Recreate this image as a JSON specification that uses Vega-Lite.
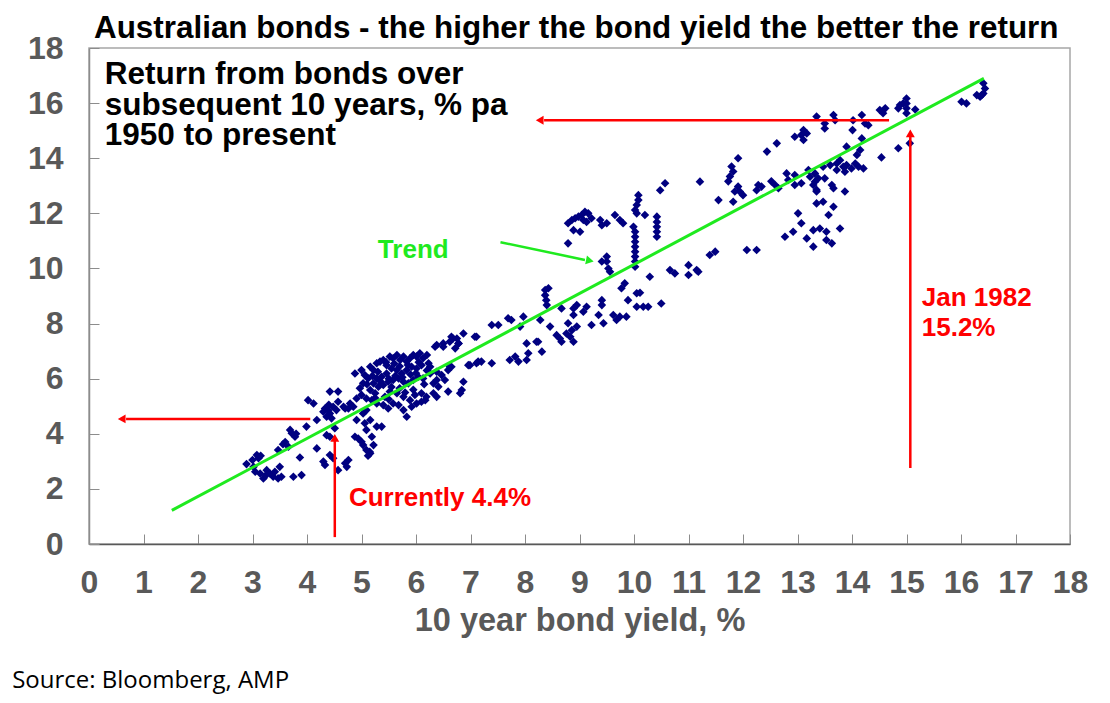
{
  "$schema": "https://vega.github.io/schema/vega-lite/v6.json",
  "autosize": {"type": "none"},
  "padding": {"left": 89, "top": 48, "right": 40, "bottom": 159},
  "width": 981,
  "height": 496,
  "background": "white",
  "datasets": {
    "bonds": [
      {"yield": 2.89, "ret": 2.90}, {"yield": 3.08, "ret": 3.23}, {"yield": 3.11, "ret": 3.11}, {"yield": 3.02, "ret": 2.80},
      {"yield": 3.05, "ret": 2.62}, {"yield": 3.14, "ret": 2.56}, {"yield": 3.20, "ret": 2.38}, {"yield": 3.26, "ret": 2.68},
      {"yield": 3.32, "ret": 2.56}, {"yield": 3.38, "ret": 2.44}, {"yield": 3.41, "ret": 2.62}, {"yield": 3.50, "ret": 2.80},
      {"yield": 3.47, "ret": 2.38}, {"yield": 3.53, "ret": 2.44}, {"yield": 3.75, "ret": 2.44}, {"yield": 3.90, "ret": 2.50},
      {"yield": 3.87, "ret": 3.14}, {"yield": 3.69, "ret": 4.14}, {"yield": 3.72, "ret": 4.02}, {"yield": 3.78, "ret": 3.89},
      {"yield": 3.66, "ret": 3.53}, {"yield": 3.47, "ret": 3.41}, {"yield": 3.99, "ret": 4.26}, {"yield": 4.18, "ret": 4.50},
      {"yield": 4.18, "ret": 3.47}, {"yield": 4.02, "ret": 5.22}, {"yield": 4.12, "ret": 5.10}, {"yield": 4.30, "ret": 2.99},
      {"yield": 4.33, "ret": 2.87}, {"yield": 4.42, "ret": 3.23}, {"yield": 4.48, "ret": 3.11}, {"yield": 4.57, "ret": 2.68},
      {"yield": 4.70, "ret": 2.93}, {"yield": 4.76, "ret": 3.05}, {"yield": 4.73, "ret": 2.80}, {"yield": 4.36, "ret": 3.95},
      {"yield": 4.42, "ret": 3.89}, {"yield": 4.51, "ret": 4.20}, {"yield": 3.15, "ret": 3.20}, {"yield": 3.00, "ret": 3.05},
      {"yield": 3.25, "ret": 2.50}, {"yield": 3.60, "ret": 3.70}, {"yield": 3.56, "ret": 3.62}, {"yield": 3.80, "ret": 4.00},
      {"yield": 4.33, "ret": 4.92}, {"yield": 4.39, "ret": 4.86}, {"yield": 4.42, "ret": 4.74}, {"yield": 4.48, "ret": 4.98},
      {"yield": 4.54, "ret": 4.86}, {"yield": 4.45, "ret": 4.56}, {"yield": 4.36, "ret": 4.62}, {"yield": 4.57, "ret": 5.16},
      {"yield": 4.42, "ret": 5.53}, {"yield": 4.57, "ret": 5.53}, {"yield": 4.67, "ret": 4.98}, {"yield": 4.76, "ret": 4.92},
      {"yield": 4.85, "ret": 4.98}, {"yield": 4.30, "ret": 4.80}, {"yield": 4.40, "ret": 5.05},
      {"yield": 4.91, "ret": 4.50}, {"yield": 4.88, "ret": 3.89}, {"yield": 4.94, "ret": 3.83}, {"yield": 5.00, "ret": 3.71},
      {"yield": 5.03, "ret": 3.59}, {"yield": 5.09, "ret": 3.41}, {"yield": 5.16, "ret": 3.29}, {"yield": 5.22, "ret": 3.59},
      {"yield": 5.28, "ret": 4.26}, {"yield": 5.37, "ret": 4.26}, {"yield": 5.09, "ret": 4.14}, {"yield": 5.06, "ret": 4.38},
      {"yield": 5.03, "ret": 4.74}, {"yield": 5.09, "ret": 4.86}, {"yield": 5.16, "ret": 4.50}, {"yield": 5.19, "ret": 3.89},
      {"yield": 5.12, "ret": 3.20}, {"yield": 5.15, "ret": 3.35},
      {"yield": 4.88, "ret": 6.19}, {"yield": 5.00, "ret": 6.31}, {"yield": 5.06, "ret": 6.13}, {"yield": 5.12, "ret": 6.01},
      {"yield": 5.03, "ret": 5.83}, {"yield": 4.97, "ret": 5.65}, {"yield": 5.16, "ret": 6.43}, {"yield": 5.22, "ret": 6.31},
      {"yield": 5.28, "ret": 6.56}, {"yield": 5.34, "ret": 6.62}, {"yield": 5.40, "ret": 6.68}, {"yield": 5.46, "ret": 6.49},
      {"yield": 5.52, "ret": 6.80}, {"yield": 5.58, "ret": 6.74}, {"yield": 5.65, "ret": 6.86}, {"yield": 5.71, "ret": 6.68},
      {"yield": 5.77, "ret": 6.80}, {"yield": 5.83, "ret": 6.62}, {"yield": 5.89, "ret": 6.74}, {"yield": 5.95, "ret": 6.86},
      {"yield": 6.01, "ret": 6.80}, {"yield": 6.07, "ret": 6.92}, {"yield": 6.13, "ret": 6.74}, {"yield": 6.20, "ret": 6.86},
      {"yield": 6.23, "ret": 6.56}, {"yield": 6.26, "ret": 6.43}, {"yield": 6.10, "ret": 6.49}, {"yield": 6.01, "ret": 6.37},
      {"yield": 5.92, "ret": 6.43}, {"yield": 5.83, "ret": 6.31}, {"yield": 5.74, "ret": 6.19}, {"yield": 5.65, "ret": 6.31},
      {"yield": 5.55, "ret": 6.37}, {"yield": 5.46, "ret": 6.19}, {"yield": 5.37, "ret": 6.07}, {"yield": 5.28, "ret": 6.01},
      {"yield": 5.22, "ret": 5.83}, {"yield": 5.31, "ret": 5.71}, {"yield": 5.40, "ret": 5.77}, {"yield": 5.49, "ret": 5.89},
      {"yield": 5.58, "ret": 5.95}, {"yield": 5.68, "ret": 6.01}, {"yield": 5.77, "ret": 5.89}, {"yield": 5.86, "ret": 5.83},
      {"yield": 5.95, "ret": 5.95}, {"yield": 6.04, "ret": 6.07}, {"yield": 6.13, "ret": 6.01}, {"yield": 6.26, "ret": 6.19},
      {"yield": 6.38, "ret": 6.25}, {"yield": 6.47, "ret": 6.13}, {"yield": 6.53, "ret": 5.95}, {"yield": 6.59, "ret": 6.31},
      {"yield": 6.65, "ret": 6.43}, {"yield": 6.38, "ret": 5.95}, {"yield": 6.32, "ret": 5.83}, {"yield": 6.41, "ret": 5.71},
      {"yield": 6.32, "ret": 5.47}, {"yield": 6.19, "ret": 5.34}, {"yield": 6.10, "ret": 5.16}, {"yield": 6.01, "ret": 5.10},
      {"yield": 5.92, "ret": 4.98}, {"yield": 5.83, "ret": 4.62}, {"yield": 5.77, "ret": 4.86}, {"yield": 5.68, "ret": 5.04},
      {"yield": 5.58, "ret": 5.10}, {"yield": 5.49, "ret": 4.92}, {"yield": 5.40, "ret": 5.04}, {"yield": 5.28, "ret": 5.10},
      {"yield": 5.19, "ret": 5.22}, {"yield": 5.09, "ret": 5.28}, {"yield": 5.00, "ret": 5.41}, {"yield": 4.91, "ret": 5.28},
      {"yield": 4.79, "ret": 5.10}, {"yield": 4.70, "ret": 4.92}, {"yield": 5.16, "ret": 5.59}, {"yield": 5.25, "ret": 5.47},
      {"yield": 5.43, "ret": 5.34}, {"yield": 5.52, "ret": 5.53}, {"yield": 5.65, "ret": 5.47}, {"yield": 5.77, "ret": 5.34},
      {"yield": 5.89, "ret": 5.22}, {"yield": 5.98, "ret": 5.41}, {"yield": 6.17, "ret": 5.22}, {"yield": 6.10, "ret": 5.47},
      {"yield": 6.38, "ret": 5.34}, {"yield": 6.59, "ret": 5.53}, {"yield": 6.81, "ret": 5.47}, {"yield": 6.87, "ret": 5.89},
      {"yield": 6.96, "ret": 6.49}, {"yield": 7.11, "ret": 6.56}, {"yield": 6.62, "ret": 7.34}, {"yield": 6.78, "ret": 7.28},
      {"yield": 6.87, "ret": 7.64}, {"yield": 6.68, "ret": 7.46}, {"yield": 6.38, "ret": 7.22}, {"yield": 6.50, "ret": 7.16},
      {"yield": 7.08, "ret": 7.52}, {"yield": 7.14, "ret": 6.62}, {"yield": 6.84, "ret": 5.59},
      {"yield": 5.30, "ret": 6.25}, {"yield": 5.45, "ret": 6.60}, {"yield": 5.60, "ret": 6.55}, {"yield": 5.70, "ret": 6.45},
      {"yield": 5.85, "ret": 6.50}, {"yield": 5.50, "ret": 6.00}, {"yield": 5.62, "ret": 6.10}, {"yield": 5.75, "ret": 6.05},
      {"yield": 5.90, "ret": 6.15}, {"yield": 6.00, "ret": 6.20}, {"yield": 6.05, "ret": 6.60}, {"yield": 5.20, "ret": 6.10},
      {"yield": 5.35, "ret": 5.90}, {"yield": 5.55, "ret": 5.70}, {"yield": 5.70, "ret": 5.65}, {"yield": 5.80, "ret": 5.50},
      {"yield": 6.20, "ret": 6.30}, {"yield": 6.15, "ret": 5.80}, {"yield": 5.95, "ret": 5.60}, {"yield": 5.25, "ret": 5.30},
      {"yield": 5.50, "ret": 5.25}, {"yield": 5.10, "ret": 5.80},
      {"yield": 8.79, "ret": 11.64}, {"yield": 8.86, "ret": 11.76}, {"yield": 8.92, "ret": 11.82}, {"yield": 8.98, "ret": 11.88},
      {"yield": 9.04, "ret": 11.94}, {"yield": 9.10, "ret": 12.06}, {"yield": 9.16, "ret": 12.00}, {"yield": 9.22, "ret": 11.82},
      {"yield": 9.13, "ret": 11.69}, {"yield": 9.07, "ret": 11.76}, {"yield": 9.01, "ret": 11.33}, {"yield": 8.89, "ret": 11.39},
      {"yield": 8.79, "ret": 10.91}, {"yield": 9.38, "ret": 11.76}, {"yield": 9.41, "ret": 11.57}, {"yield": 9.50, "ret": 11.64},
      {"yield": 9.65, "ret": 11.94}, {"yield": 9.74, "ret": 11.76}, {"yield": 9.80, "ret": 11.64},
      {"yield": 10.08, "ret": 12.66}, {"yield": 10.08, "ret": 12.48}, {"yield": 10.05, "ret": 12.30}, {"yield": 10.02, "ret": 12.12},
      {"yield": 10.05, "ret": 12.00}, {"yield": 9.99, "ret": 11.51}, {"yield": 10.02, "ret": 11.33}, {"yield": 10.02, "ret": 11.15},
      {"yield": 10.02, "ret": 10.97}, {"yield": 10.02, "ret": 10.79}, {"yield": 10.02, "ret": 10.61}, {"yield": 10.02, "ret": 10.43},
      {"yield": 10.02, "ret": 10.25}, {"yield": 10.02, "ret": 10.06}, {"yield": 10.20, "ret": 11.94}, {"yield": 10.48, "ret": 12.84},
      {"yield": 10.57, "ret": 13.09}, {"yield": 11.21, "ret": 13.15},
      {"yield": 10.42, "ret": 11.88}, {"yield": 10.42, "ret": 11.69}, {"yield": 10.42, "ret": 11.51}, {"yield": 10.42, "ret": 11.33},
      {"yield": 10.42, "ret": 11.15},
      {"yield": 9.41, "ret": 10.25}, {"yield": 9.50, "ret": 10.43}, {"yield": 9.50, "ret": 10.25}, {"yield": 9.53, "ret": 10.00},
      {"yield": 9.56, "ret": 9.88},
      {"yield": 11.39, "ret": 10.49}, {"yield": 11.49, "ret": 10.61}, {"yield": 11.55, "ret": 12.48},
      {"yield": 11.00, "ret": 10.12}, {"yield": 11.15, "ret": 9.94}, {"yield": 11.00, "ret": 9.76}, {"yield": 10.66, "ret": 9.94},
      {"yield": 10.75, "ret": 9.82}, {"yield": 10.29, "ret": 9.70}, {"yield": 9.83, "ret": 9.46}, {"yield": 9.77, "ret": 9.28},
      {"yield": 10.05, "ret": 9.10}, {"yield": 10.11, "ret": 9.12}, {"yield": 9.89, "ret": 8.85}, {"yield": 10.05, "ret": 8.61},
      {"yield": 10.17, "ret": 8.61}, {"yield": 10.26, "ret": 8.61}, {"yield": 10.50, "ret": 8.73}, {"yield": 9.86, "ret": 8.25},
      {"yield": 9.74, "ret": 8.25}, {"yield": 9.62, "ret": 8.31}, {"yield": 9.68, "ret": 8.13}, {"yield": 9.41, "ret": 8.85},
      {"yield": 9.41, "ret": 8.67}, {"yield": 9.35, "ret": 8.31}, {"yield": 9.44, "ret": 8.01}, {"yield": 9.22, "ret": 7.95},
      {"yield": 9.13, "ret": 8.61}, {"yield": 9.07, "ret": 8.43}, {"yield": 8.95, "ret": 8.67}, {"yield": 8.89, "ret": 8.55},
      {"yield": 8.89, "ret": 8.31}, {"yield": 8.79, "ret": 8.01}, {"yield": 8.95, "ret": 7.89}, {"yield": 8.86, "ret": 7.76},
      {"yield": 8.67, "ret": 8.55}, {"yield": 8.46, "ret": 7.89}, {"yield": 8.58, "ret": 7.58}, {"yield": 8.64, "ret": 7.46},
      {"yield": 8.67, "ret": 7.34}, {"yield": 8.76, "ret": 7.64}, {"yield": 8.83, "ret": 7.52}, {"yield": 8.89, "ret": 7.34},
      {"yield": 8.31, "ret": 6.98}, {"yield": 8.24, "ret": 7.34}, {"yield": 8.37, "ret": 9.22}, {"yield": 8.43, "ret": 9.28},
      {"yield": 8.37, "ret": 9.03}, {"yield": 8.39, "ret": 8.85}, {"yield": 8.40, "ret": 8.67}, {"yield": 8.28, "ret": 8.13},
      {"yield": 8.03, "ret": 7.28}, {"yield": 8.06, "ret": 6.92}, {"yield": 8.21, "ret": 7.34}, {"yield": 7.97, "ret": 8.25},
      {"yield": 7.75, "ret": 8.13}, {"yield": 7.69, "ret": 8.19}, {"yield": 7.51, "ret": 7.95}, {"yield": 7.39, "ret": 7.95},
      {"yield": 7.91, "ret": 7.89}, {"yield": 7.11, "ret": 7.52}, {"yield": 6.75, "ret": 7.46}, {"yield": 6.78, "ret": 7.28},
      {"yield": 6.65, "ret": 7.52}, {"yield": 6.50, "ret": 7.28}, {"yield": 6.35, "ret": 7.16}, {"yield": 6.72, "ret": 7.10},
      {"yield": 7.72, "ret": 6.68}, {"yield": 7.82, "ret": 6.80}, {"yield": 7.88, "ret": 6.62}, {"yield": 8.03, "ret": 6.68},
      {"yield": 7.20, "ret": 6.62}, {"yield": 7.39, "ret": 6.56}, {"yield": 6.99, "ret": 6.49}, {"yield": 6.62, "ret": 6.43},
      {"yield": 16.41, "ret": 16.72}, {"yield": 16.44, "ret": 16.53}, {"yield": 16.41, "ret": 16.35}, {"yield": 16.38, "ret": 16.29},
      {"yield": 16.35, "ret": 16.23}, {"yield": 16.29, "ret": 16.29}, {"yield": 16.01, "ret": 16.05}, {"yield": 16.10, "ret": 15.99},
      {"yield": 15.00, "ret": 16.17}, {"yield": 15.00, "ret": 15.99}, {"yield": 15.00, "ret": 15.81}, {"yield": 15.00, "ret": 15.63},
      {"yield": 14.88, "ret": 15.93}, {"yield": 14.85, "ret": 15.81}, {"yield": 15.16, "ret": 15.77}, {"yield": 14.94, "ret": 15.99},
      {"yield": 14.51, "ret": 15.75}, {"yield": 14.61, "ret": 15.81}, {"yield": 14.57, "ret": 15.63},
      {"yield": 15.06, "ret": 14.54}, {"yield": 14.85, "ret": 14.36}, {"yield": 14.54, "ret": 14.03},
      {"yield": 14.18, "ret": 15.57}, {"yield": 14.02, "ret": 15.38}, {"yield": 14.30, "ret": 15.20}, {"yield": 14.24, "ret": 15.26},
      {"yield": 14.01, "ret": 15.02}, {"yield": 14.18, "ret": 14.72}, {"yield": 13.66, "ret": 15.57}, {"yield": 13.69, "ret": 15.38},
      {"yield": 13.50, "ret": 15.26}, {"yield": 13.50, "ret": 15.08}, {"yield": 13.35, "ret": 15.51},
      {"yield": 13.11, "ret": 15.02}, {"yield": 13.17, "ret": 14.90}, {"yield": 13.11, "ret": 14.66}, {"yield": 12.95, "ret": 14.78},
      {"yield": 13.07, "ret": 14.84}, {"yield": 12.62, "ret": 14.54}, {"yield": 12.44, "ret": 14.24},
      {"yield": 11.91, "ret": 14.00}, {"yield": 11.79, "ret": 13.70}, {"yield": 11.82, "ret": 13.52}, {"yield": 11.76, "ret": 13.34},
      {"yield": 11.73, "ret": 13.16}, {"yield": 11.91, "ret": 12.97}, {"yield": 11.94, "ret": 12.79}, {"yield": 11.85, "ret": 12.79},
      {"yield": 12.00, "ret": 12.66}, {"yield": 11.82, "ret": 12.42}, {"yield": 12.28, "ret": 13.03}, {"yield": 12.34, "ret": 12.97},
      {"yield": 12.25, "ret": 12.84}, {"yield": 12.52, "ret": 13.16}, {"yield": 12.59, "ret": 13.03}, {"yield": 12.65, "ret": 12.91},
      {"yield": 12.80, "ret": 13.45}, {"yield": 12.83, "ret": 13.21}, {"yield": 12.95, "ret": 13.39}, {"yield": 12.95, "ret": 13.03},
      {"yield": 13.07, "ret": 13.09}, {"yield": 13.20, "ret": 13.57}, {"yield": 13.23, "ret": 13.33}, {"yield": 13.32, "ret": 13.45},
      {"yield": 13.32, "ret": 13.15}, {"yield": 13.29, "ret": 13.03}, {"yield": 13.38, "ret": 13.27}, {"yield": 13.50, "ret": 13.27},
      {"yield": 13.35, "ret": 12.85}, {"yield": 13.47, "ret": 13.69}, {"yield": 13.60, "ret": 13.75}, {"yield": 13.72, "ret": 13.81},
      {"yield": 13.78, "ret": 13.93}, {"yield": 13.84, "ret": 13.69}, {"yield": 13.90, "ret": 13.75}, {"yield": 13.99, "ret": 13.63},
      {"yield": 14.06, "ret": 13.81}, {"yield": 13.72, "ret": 13.57}, {"yield": 13.87, "ret": 13.51}, {"yield": 14.12, "ret": 13.69},
      {"yield": 14.21, "ret": 13.63}, {"yield": 13.90, "ret": 14.42}, {"yield": 14.15, "ret": 14.30}, {"yield": 14.09, "ret": 14.12},
      {"yield": 13.63, "ret": 13.03}, {"yield": 13.66, "ret": 12.91}, {"yield": 13.87, "ret": 12.79},
      {"yield": 13.35, "ret": 12.79}, {"yield": 13.35, "ret": 12.36}, {"yield": 13.47, "ret": 12.42}, {"yield": 13.66, "ret": 12.24},
      {"yield": 13.57, "ret": 11.94}, {"yield": 13.01, "ret": 12.00}, {"yield": 13.07, "ret": 11.64}, {"yield": 12.92, "ret": 11.33},
      {"yield": 12.77, "ret": 11.15}, {"yield": 13.17, "ret": 11.09}, {"yield": 13.29, "ret": 10.79}, {"yield": 13.29, "ret": 11.39},
      {"yield": 13.41, "ret": 11.45}, {"yield": 13.53, "ret": 11.33}, {"yield": 13.53, "ret": 11.03}, {"yield": 13.63, "ret": 10.91},
      {"yield": 13.78, "ret": 11.45}, {"yield": 12.07, "ret": 10.67}, {"yield": 12.25, "ret": 10.67}, {"yield": 11.18, "ret": 9.88}
    ],
    "trend": [
      {"yield": 1.52, "ret": 1.22},
      {"yield": 16.42, "ret": 16.90}
    ],
    "arrows": [
      {"yield": 14.68, "ret": 15.38, "yield2": 8.35, "ret2": 15.38, "kind": "red"},
      {"yield": 4.06, "ret": 4.54, "yield2": 0.68, "ret2": 4.54, "kind": "red"},
      {"yield": 4.51, "ret": 0.25, "yield2": 4.51, "ret2": 3.75, "kind": "red"},
      {"yield": 15.07, "ret": 2.76, "yield2": 15.07, "ret2": 14.8, "kind": "red"},
      {"yield": 7.55, "ret": 10.95, "yield2": 9.1, "ret2": 10.31, "kind": "green"}
    ],
    "heads": [
      {"yield": 8.27, "ret": 15.38, "dir": "left"},
      {"yield": 0.6, "ret": 4.54, "dir": "left"},
      {"yield": 4.51, "ret": 3.85, "dir": "up"},
      {"yield": 15.07, "ret": 14.9, "dir": "up"},
      {"yield": 9.19, "ret": 10.28, "dir": "trend"}
    ],
    "notes": [
      {"yield": 8.94, "ret": 18.36, "label": "Australian bonds - the higher the bond yield the better the return", "kind": "title"},
      {"yield": 0.29, "ret": 16.68, "label": "Return from bonds over", "kind": "black"},
      {"yield": 0.29, "ret": 15.58, "label": "subsequent 10 years, % pa", "kind": "black"},
      {"yield": 0.29, "ret": 14.48, "label": "1950 to present", "kind": "black"},
      {"yield": 4.77, "ret": 1.38, "label": "Currently 4.4%", "kind": "red"},
      {"yield": 15.28, "ret": 8.64, "label": "Jan 1982", "kind": "red"},
      {"yield": 15.28, "ret": 7.55, "label": "15.2%", "kind": "red"},
      {"yield": 5.30, "ret": 10.38, "label": "Trend", "kind": "green"},
      {"yield": -1.41, "ret": -5.22, "label": "Source: Bloomberg, AMP", "kind": "source"}
    ]
  },
  "encoding": {
    "x": {
      "field": "yield",
      "type": "quantitative",
      "scale": {"domain": [0, 18], "nice": false, "zero": false},
      "axis": {
        "title": "10 year bond yield, %",
        "values": [0, 1, 2, 3, 4, 5, 6, 7, 8, 9, 10, 11, 12, 13, 14, 15, 16, 17, 18],
        "grid": false,
        "labelFont": "Liberation Sans",
        "labelFontSize": 32,
        "labelFontWeight": "bold",
        "labelColor": "#595959",
        "labelPadding": 33,
        "labelFlush": false,
        "labelOverlap": false,
        "tickSize": -10,
        "tickColor": "#8c8c8c",
        "domainColor": "#595959",
        "domainWidth": 1.5,
        "titleFont": "Liberation Sans",
        "titleFontSize": 32.5,
        "titleFontWeight": "bold",
        "titleColor": "#595959",
        "titlePadding": 6
      }
    },
    "y": {
      "field": "ret",
      "type": "quantitative",
      "scale": {"domain": [0, 18], "nice": false, "zero": false},
      "axis": {
        "title": null,
        "values": [0, 2, 4, 6, 8, 10, 12, 14, 16, 18],
        "grid": false,
        "labelFont": "Liberation Sans",
        "labelFontSize": 32,
        "labelFontWeight": "bold",
        "labelColor": "#595959",
        "labelPadding": 36,
        "labelFlush": false,
        "labelOverlap": false,
        "tickSize": -10,
        "tickColor": "#8c8c8c",
        "domainColor": "#8c8c8c",
        "domainWidth": 1.5
      }
    }
  },
  "layer": [
    {
      "data": {"name": "bonds"},
      "mark": {"type": "point", "shape": "diamond", "filled": true, "size": 74, "opacity": 1, "color": "#000080"}
    },
    {
      "data": {"name": "trend"},
      "mark": {"type": "line", "color": "#1fea1f", "strokeWidth": 3}
    },
    {
      "data": {"name": "arrows"},
      "mark": {"type": "rule", "strokeWidth": 2.5},
      "encoding": {
        "x2": {"field": "yield2"},
        "y2": {"field": "ret2"},
        "color": {
          "field": "kind",
          "type": "nominal",
          "scale": {"domain": ["red", "green"], "range": ["#ff0000", "#1fea1f"]},
          "legend": null
        }
      }
    },
    {
      "data": {"name": "heads"},
      "transform": [{"filter": "datum.dir === 'left'"}],
      "mark": {"type": "point", "shape": "triangle-left", "filled": true, "size": 80, "opacity": 1, "color": "#ff0000"}
    },
    {
      "data": {"name": "heads"},
      "transform": [{"filter": "datum.dir === 'up'"}],
      "mark": {"type": "point", "shape": "triangle-up", "filled": true, "size": 80, "opacity": 1, "color": "#ff0000"}
    },
    {
      "data": {"name": "heads"},
      "transform": [{"filter": "datum.dir === 'trend'"}],
      "mark": {"type": "point", "shape": "triangle-right", "angle": 11.6, "filled": true, "size": 80, "opacity": 1, "color": "#1fea1f"}
    },
    {
      "data": {"name": "notes"},
      "transform": [{"filter": "datum.kind === 'title'"}],
      "mark": {"type": "text", "align": "center", "baseline": "alphabetic", "font": "Liberation Sans", "fontSize": 31.4, "fontWeight": "bold", "color": "black"},
      "encoding": {"text": {"field": "label"}}
    },
    {
      "data": {"name": "notes"},
      "transform": [{"filter": "datum.kind === 'black'"}],
      "mark": {"type": "text", "align": "left", "baseline": "alphabetic", "font": "Liberation Sans", "fontSize": 31.5, "fontWeight": "bold", "color": "black"},
      "encoding": {"text": {"field": "label"}}
    },
    {
      "data": {"name": "notes"},
      "transform": [{"filter": "datum.kind === 'red'"}],
      "mark": {"type": "text", "align": "left", "baseline": "alphabetic", "font": "Liberation Sans", "fontSize": 26, "fontWeight": "bold", "color": "#ff0000"},
      "encoding": {"text": {"field": "label"}}
    },
    {
      "data": {"name": "notes"},
      "transform": [{"filter": "datum.kind === 'green'"}],
      "mark": {"type": "text", "align": "left", "baseline": "alphabetic", "font": "Liberation Sans", "fontSize": 26, "fontWeight": "bold", "color": "#1fea1f"},
      "encoding": {"text": {"field": "label"}}
    },
    {
      "data": {"name": "notes"},
      "transform": [{"filter": "datum.kind === 'source'"}],
      "mark": {"type": "text", "align": "left", "baseline": "alphabetic", "font": "Open Sans", "fontSize": 24, "color": "black"},
      "encoding": {"text": {"field": "label"}}
    }
  ],
  "config": {
    "view": {"stroke": "#a6a6a6", "strokeWidth": 1.5}
  }
}
